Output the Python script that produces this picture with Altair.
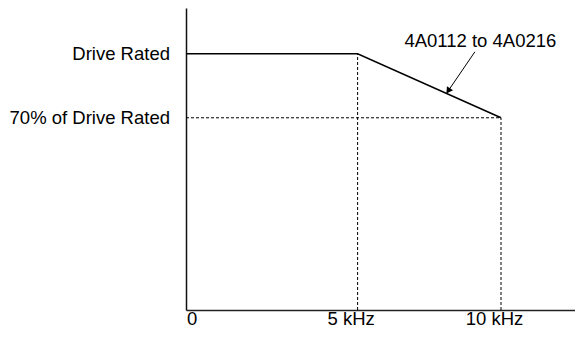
import altair as alt
import pandas as pd

# Derating curve (carrier frequency in kHz vs. % of drive rated current)
freq_khz = [0, 5, 10]
current_pct = [100, 100, 70]

# Axis tick positions and their labels
x_tick_values = [0, 5, 10]
x_tick_labels = ["0", "5 kHz", "10 kHz"]
y_tick_values = [100, 70]
y_tick_labels = ["Drive Rated", "70% of Drive Rated"]

# Dashed guide lines
guide_x = [0, 5, 10]
guide_x2 = [10, 5, 10]
guide_y = [70, -20, -20]
guide_y2 = [70, 100, 70]

# Annotation
series_label = ["4A0112 to 4A0216"]
label_x = [9.28]
label_y = [105.9]
arrow_x = [9.09]
arrow_y = [100.9]
arrow_x2 = [8.18]
arrow_y2 = [83.0]

FONT = "Liberation Sans"
FS = 18.5

PLOT_H = 302
y_top = 121.4
y_bot = 100 - (PLOT_H - 46) / (64 / 30)

xs = alt.Scale(domain=[0, 5, 12.58], range=[0, 171.6, 389], nice=False, zero=False)
ys = alt.Scale(domain=[y_bot, y_top], nice=False, zero=False)

curve = pd.DataFrame({"f": freq_khz, "i": current_pct})
guides = pd.DataFrame({"x": guide_x, "x2": guide_x2,
                       "y": [y_bot if v == -20 else v for v in guide_y], "y2": guide_y2})
xt = pd.DataFrame({"v": x_tick_values, "t": x_tick_labels, "y": [y_bot] * len(x_tick_values)})
yt = pd.DataFrame({"v": y_tick_values, "t": y_tick_labels, "x": [0] * len(y_tick_values)})
ann = pd.DataFrame({"x": label_x, "y": label_y, "t": series_label})
arr = pd.DataFrame({"x": arrow_x, "y": arrow_y, "x2": arrow_x2, "y2": arrow_y2})

ax_x = alt.Axis(domain=True, ticks=False, labels=False, grid=False, title=None,
                domainColor="#222", domainWidth=1.5)
ax_y = alt.Axis(domain=True, ticks=False, labels=False, grid=False, title=None,
                domainColor="#111", domainWidth=1.5)

line = alt.Chart(curve).mark_line(color="black", strokeWidth=1.5).encode(
    x=alt.X("f:Q", scale=xs, axis=ax_x),
    y=alt.Y("i:Q", scale=ys, axis=ax_y),
)

dashed = alt.Chart(guides).mark_rule(color="black", strokeWidth=1, strokeDash=[3, 2]).encode(
    x=alt.X("x:Q", scale=xs), x2="x2:Q",
    y=alt.Y("y:Q", scale=ys), y2="y2:Q",
)

x_lab0 = alt.Chart(xt).transform_filter("datum.v == 0").mark_text(
    font=FONT, fontSize=FS, color="black", align="left", baseline="alphabetic", dx=1, dy=15
).encode(x=alt.X("v:Q", scale=xs), y=alt.Y("y:Q", scale=ys), text="t:N")

x_lab = alt.Chart(xt).transform_filter("datum.v > 0").mark_text(
    font=FONT, fontSize=FS, color="black", align="center", baseline="alphabetic", dx=-6.5, dy=15
).encode(x=alt.X("v:Q", scale=xs), y=alt.Y("y:Q", scale=ys), text="t:N")

y_lab = alt.Chart(yt).mark_text(
    font=FONT, fontSize=FS, color="black", align="right", baseline="middle", dx=-16
).encode(x=alt.X("x:Q", scale=xs), y=alt.Y("v:Q", scale=ys), text="t:N")

ann_text = alt.Chart(ann).mark_text(
    font=FONT, fontSize=FS, color="black", align="center", baseline="middle"
).encode(x=alt.X("x:Q", scale=xs), y=alt.Y("y:Q", scale=ys), text="t:N")

arrow_line = alt.Chart(arr).mark_rule(color="black", strokeWidth=1).encode(
    x=alt.X("x:Q", scale=xs), x2="x2:Q",
    y=alt.Y("y:Q", scale=ys), y2="y2:Q",
)

arrow_head = alt.Chart(arr).mark_point(
    shape="triangle", filled=True, color="black", size=55, angle=213.6, opacity=1
).encode(x=alt.X("x2:Q", scale=xs), y=alt.Y("y2:Q", scale=ys))

chart = alt.layer(
    dashed, line, arrow_line, arrow_head, ann_text, x_lab0, x_lab, y_lab
).properties(
    width=389, height=PLOT_H,
    autosize=alt.AutoSizeParams(type="none"),
    padding={"left": 178, "top": 0, "right": 0, "bottom": 20},
).configure_view(stroke=None)

chart.save("out.html", embed_options={"renderer": "svg", "actions": False})
